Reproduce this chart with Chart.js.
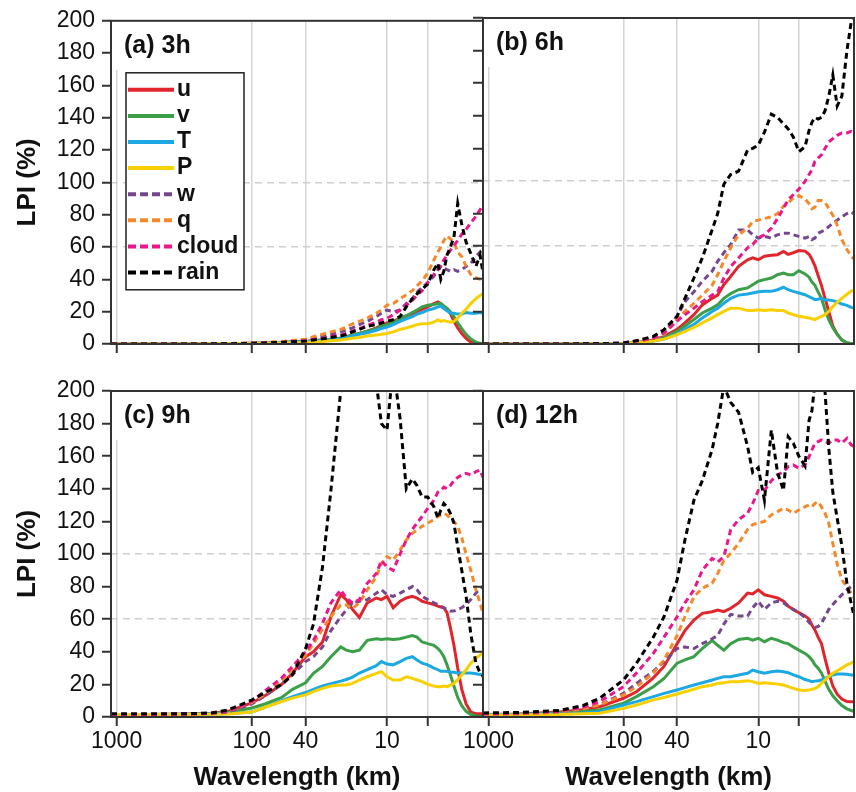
<!DOCTYPE html>
<html>
<head>
<meta charset="utf-8">
<title>LPI spectra</title>
<script src="https://cdn.jsdelivr.net/npm/chart.js@4.4.1/dist/chart.umd.min.js"></script>
<style>
  body { margin: 0; background: #fff; }
  #wrap { position: relative; width: 856px; height: 792px; overflow: hidden; background: #fff; }
  canvas { position: absolute; }
</style>
</head>
<body>
<div id="wrap">
  <canvas id="p3h" width="490" height="380" style="left:0px;top:0px"></canvas>
  <canvas id="p6h" width="386" height="380" style="left:470px;top:0px"></canvas>
  <canvas id="p9h" width="490" height="432" style="left:0px;top:360px"></canvas>
  <canvas id="p12h" width="396" height="432" style="left:460px;top:360px"></canvas>
</div>
<script>
// wavelength samples (km), shared by every curve
const wavelength = [1100, 600, 300, 200, 150, 100, 80, 60, 50, 40,
  35, 30, 26, 22, 20, 18, 16, 14, 12, 11,
  10, 9, 8, 7.2, 6.5, 6, 5.5, 5, 4.5, 4.2,
  4, 3.8, 3.6, 3.4, 3.2, 3, 2.8, 2.6, 2.4, 2.2,
  2.05, 1.95];

const seriesNames = ['u', 'v', 'T', 'P', 'w', 'q', 'cloud', 'rain'];
const seriesColors = ['#e0262c', '#3a9f48', '#1ba8e3', '#f8d000', '#76478f', '#f5892a', '#ec168c', '#000000'];
const seriesDashed = [false, false, false, false, true, true, true, true];

const xTickValues = [1000, 100, 40, 10, 5];
const xTickLabels = ['1000', '100', '40', '10', ''];

// (a) 3h
const u3h = [0,0,0,0.1,0.2,0.4,0.6,0.9,1.2,1.5, 2,2.5,3,3.5,4.5,5.5,6.5,8,10,11.5, 13,14,16,17.5,18.5,20,21.5,23,25,26, 25,23,22,19,14,10,6.5,3.5,1.2,0.3, 0.1,0];
const v3h = [0,0,0,0.1,0.2,0.4,0.6,0.9,1.2,1.5, 2,2.5,3,3.5,4.5,5.5,6.5,8,9.5,11, 12,13.5,15.5,17.5,19.5,21,23,24,24.5,25, 25,23.5,22,20,17,13,9.5,6,3,1.2, 0.4,0.1];
const T3h = [0,0,0,0.1,0.2,0.4,0.6,0.9,1.1,1.4, 1.8,2.2,2.6,3.2,4,5,6,7,8.5,9.5, 10.5,12,14,15.5,17,18.5,19.5,21,22,23, 23.5,22,20.5,19,19,18.5,18.5,19.5,19,19, 19.5,19];
const P3h = [0,0,0,0.1,0.1,0.3,0.4,0.6,0.8,1, 1.3,1.6,2,2.5,3,3.5,4,5,5.5,6, 6.5,7.5,9,10,11,12,12.5,12.5,13.5,15, 14,14.5,14,13.5,14,16,19,21.5,25,28, 30,31];
const w3h = [0,0,0,0.1,0.2,0.5,0.8,1.2,1.8,2.5, 3.5,5,6,7.5,8.5,10,12,14,17,19, 21,20,21,25,28,32,35,38,42,46, 48,47,46,45,46,45,46,48,50,54, 57,59];
const q3h = [0,0,0,0.1,0.3,0.6,1,1.6,2.2,3, 4.5,6,7.5,9,10.5,12.5,14,16,19,21, 24,25,28,30.5,33,36,39,44,52,57, 60,64,67,65,63,57,54,48,43,41, 40,40];
const cloud3h = [0,0,0,0.1,0.2,0.4,0.7,1.1,1.5,2, 2.8,3.5,4.5,5.5,6.5,8,9.5,11.5,13.5,15, 16,18,21,24,27,30,33,38,43,46, 48,52,55,58,61,64,68,71,75,79, 83,86];
const rain3h = [0,0,0,0.1,0.2,0.4,0.6,1,1.4,1.8, 2.5,3.2,4,5,6,7.5,9,11,12,13, 14,15,17,23,28,31,34,37,46,50, 40,45,55,60,66,87,74,63,56,48, 55,44];

// (b) 6h
const u6h = [0,0,0,0,0.1,0.3,1,2.5,4.5,9, 13,18,24,28,30,36.4,41.5,47.6,51.7,52.8, 51.7,53.8,54.4,54.8,56.8,55,56,57.3,57,55, 52,48,42,36,28,20,11,6,2.5,0.6, 0.2,0];
const v6h = [0,0,0,0,0.1,0.3,0.8,2,3.8,7.8, 11,15,19,22,24,28,31,33.3,34.4,36.4, 38.5,39.5,40.5,42.5,43.5,42.5,42.5,45,43,41, 38,36,32,28,21,15,10,6,2.5,0.8, 0.3,0.1];
const T6h = [0,0,0,0,0.1,0.3,0.7,1.8,3,6, 9,12,16,20,22,25,28,30,30.7,31.3, 32,32.3,32.3,33.3,34.8,33.3,32.3,31.3,30.2,29, 28.2,27.2,27.5,28,27,27,26.6,25.8,24.5,23.7, 22.5,22];
const P6h = [0,0,0,0,0.1,0.3,0.7,1.8,3,5.7, 7.8,10.2,13,16,18,20,22,22,20.5,20.5, 21,20.5,21,20.5,20.5,19,18,17,16.4,16, 15.5,15,16,17,18,20,23,25.5,28,30.5, 32.5,33];
const w6h = [0,0,0,0.1,0.2,0.5,1.5,3.5,7,17, 26,32,38.5,44.6,50.7,56,61,70,70,67, 65,66,65,67,68,68,67,66,65,66, 64,65,68,69,70,72,74,76,78,80, 81,80];
const q6h = [0,0,0,0.1,0.2,0.5,1.5,3.5,6,15, 20,25,30,36,42.5,50.7,59,67,71,75, 76,77,78,80,84.5,86.5,89.6,91,89,86, 83,84,88,88,87,83,79,73,64,58, 54,52];
const cloud6h = [0,0,0,0.1,0.2,0.6,2,3.7,6.7,14, 18,22,26,30,32,40.5,47.6,52.8,59,61, 65,67,71,77,83.4,88.5,91.6,95,99.8,104, 107,112,114,116,120,124,126,128,129.5,129.5, 130.5,129.5];
const rain6h = [0,0,0,0.1,0.2,0.6,2,4.7,8.8,17, 28,40.5,52.8,70,80,98,104,106,119,120, 122,130,141,139,135,132,127,118,121,131, 136,139,138,139,143,152,165,146,152,180, 197,200];

// (c) 9h
const u9h = [1.5,1.5,1.8,2.2,3.5,8.6,13,20,27,37, 40,46,61.5,75,72,66,61,70,73,72, 74,67,71,73,74,73,71,70,69,68, 67.5,67,64,55,44,30,17,8,3,2, 2,2];
const v9h = [1.5,1.5,1.7,2,2.8,5.5,8,12,17,21, 26.8,31,37,43,41,40,41,47,48,47.6, 48,47.6,48,49,50,49,46,45,44,42, 40,37,32,26,19,12,7,3.5,1.5,0.6, 0.4,0.3];
const T9h = [1.5,1.5,1.6,1.8,2,3,6,10,12.5,15, 17,19,20.5,22,23,24.5,27,29,31.5,34, 32.5,32,34,36,37,35,33,32,30,29, 28,28,28,27.5,27.5,27,27,27,27,26.5, 26,26];
const P9h = [1.5,1.5,1.6,1.7,1.8,3,6,9.5,11.6,13.6, 15.6,17.6,19,19.6,19.6,20.6,22.7,24.7,26.8,27.8, 24.7,22.7,22.7,24.7,23.7,22.7,21.7,20,19,18.6, 18.6,19,18.6,19.6,20.6,23,25.8,29,33,36, 38,39];
const w9h = [1.5,1.5,1.8,2.2,3,8,13,20,25.8,34, 37,43,53,61.5,65.6,70,71,72,76,78, 75,74,76,78,80,78,74,72,70,69, 68,67,66,65,65,66,67,69,72,76, 79,80];
const q9h = [1.5,1.5,1.8,2.3,3.5,9,14,22,29,38, 45,54,61.5,68.7,68.7,66.7,70,78,86,94.3, 98.4,96.3,102.4,108.6,112.7,114.7,117,119,121,123, 124,125,124,122,120,117,110,100,90,78, 70,63.6];
const cloud9h = [1.5,1.5,1.8,2.3,3.5,9.5,16,24,31,40, 47,57.5,70,78,73,70,72,82,88,96, 92,90,100,108.6,115,119,123,128,133,138, 139,141,140,142,145,147,148.5,149.5,148.5,150.5, 151.5,147];
const rain9h = [2,2,2,2.5,4.3,10.4,15,20,26,42, 57,92,139,200,240,280,290,260,205,180, 176,215,183,140,146,142,135,135,129,122, 127,131,129,125,119,104.5,90,74,51,33, 27,25];

// (d) 12h
const u12h = [1.5,1.8,3,4.5,6.3,11.5,15.5,24,31,45, 53,59.5,63.6,64.6,65.6,64.6,66.7,70,76,75.5, 78,75,74,73,71,68,66,64,62,60, 56.5,53.4,49,45,36,27,19,14,11,9.5, 9.4,9.4];
const v12h = [1.5,1.6,2.5,3.5,4.3,8.4,12.5,18.6,23.7,33, 35,37,42,47,44,41,45,47.6,48.3,47.2, 48.3,46.2,48.3,47.2,45.6,45,43,41,39,37, 35,32,30,27,22,17,13,10,7,5, 4,3.5];
const T12h = [1.5,1.5,2,2.5,3.3,7.4,9.4,12.5,14.5,16.6, 18,19.6,21,22.7,23.7,24.7,24.7,25.8,26.8,28.8, 27.8,26.8,27.8,28.2,27.8,27.2,25.8,24.7,23,22.3, 21.7,22,22.3,22.7,23.7,24.7,25.8,26.4,26.4,26.2, 25.8,25.8];
const P12h = [1.2,1.3,1.5,2,2.3,5.3,7.4,10.5,12,14.1, 15.5,17,18.6,19.6,20.6,21,21.7,21.7,22.3,21.7, 20.6,21,20.6,20.2,19.6,18.6,17.6,16.6,16.2,16.6, 17,17.6,18.6,20.6,22.7,24.7,26.8,28.4,30,32, 33,34];
const w12h = [1.8,2,3,5,7.4,14.5,20.6,28,34,42, 43,42,45,48,50,57,63,62,62,67, 71,66,70,71,70,68,66,64,61,58, 56.5,55,55.5,57.5,61.5,66,69,72,75,78, 80,82];
const q12h = [1.8,2,3,5,7.4,13.5,18.6,27,35,50, 61.5,73.8,79,82,88,96,100.4,106.5,115,118, 119,120,124,126,128,127,125,127,129,130, 129,131,132,129,125,119,106.5,94,84,80, 76,73];
const cloud12h = [2,2.2,3.5,6,9.4,18.6,27,39,49,61.5, 70,78,90,97.3,95,98.4,115,121,125,131, 139,139,145,148.5,150.5,153.6,154.6,152.6,154.6,159.7, 163.8,168,169,170,169,168,170,170,168,171, 167,166];
const rain12h = [2.5,2.8,4,7,11.5,22.7,33,49,61.5,84, 108.6,133,145,164,180,203,193,187,166,150, 153,133,176,150,139,172,168,160,154,182, 188,205,215,210,200,165,138,122,105,82, 70,62];

const FONT = '"Liberation Sans", Arial, Helvetica, sans-serif';

// panel label, legend box and frame
const panelDecor = {
  id: 'panelDecor',
  beforeDatasetsDraw(chart, args, opts) {
    const { ctx, chartArea: a } = chart;
    ctx.save();
    ctx.fillStyle = '#fff';
    ctx.fillRect(a.left + 1, a.top + 1, 128, 48);
    ctx.fillStyle = '#111';
    ctx.font = 'bold 25px ' + FONT;
    ctx.textBaseline = 'middle';
    ctx.textAlign = 'left';
    ctx.fillText(opts.label, a.left + 13, a.top + 25);

    if (opts.legend) {
      const bx = a.left + 15, by = a.top + 52, bw = 118, bh = 217;
      ctx.fillStyle = '#fff';
      ctx.fillRect(bx, by, bw, bh);
      ctx.strokeStyle = '#222';
      ctx.lineWidth = 1.5;
      ctx.strokeRect(bx, by, bw, bh);
      ctx.font = 'bold 23px ' + FONT;
      chart.data.datasets.forEach((ds, i) => {
        const y = by + 17 + i * 26.1;
        ctx.strokeStyle = ds.borderColor;
        ctx.lineWidth = 4;
        ctx.setLineDash(ds.borderDash.length ? [8, 4] : []);
        ctx.beginPath();
        ctx.moveTo(bx + 2, y);
        ctx.lineTo(bx + 48, y);
        ctx.stroke();
        ctx.setLineDash([]);
        ctx.fillStyle = '#111';
        ctx.fillText(ds.label, bx + 51, y);
      });
    }
    ctx.restore();
  },
  afterDatasetsDraw(chart) {
    const { ctx, chartArea: a } = chart;
    ctx.save();
    ctx.strokeStyle = '#333';
    ctx.lineWidth = 2;
    ctx.strokeRect(a.left, a.top, a.right - a.left, a.bottom - a.top);
    ctx.restore();
  }
};

const panels = [
  { id: 'p3h', label: '(a) 3h', legend: true, left: true, bottom: false,
    yWidth: 111, xHeight: 36, padding: { left: 0, top: 18, right: 7, bottom: 0 },
    values: [u3h, v3h, T3h, P3h, w3h, q3h, cloud3h, rain3h] },
  { id: 'p6h', label: '(b) 6h', legend: false, left: false, bottom: false,
    yWidth: 13, xHeight: 36, padding: { left: 0, top: 18, right: 2, bottom: 0 },
    values: [u6h, v6h, T6h, P6h, w6h, q6h, cloud6h, rain6h] },
  { id: 'p9h', label: '(c) 9h', legend: false, left: true, bottom: true,
    yWidth: 111, xHeight: 75, padding: { left: 0, top: 31, right: 7, bottom: 0 },
    values: [u9h, v9h, T9h, P9h, w9h, q9h, cloud9h, rain9h] },
  { id: 'p12h', label: '(d) 12h', legend: false, left: false, bottom: true,
    yWidth: 23, xHeight: 75, padding: { left: 0, top: 31, right: 2, bottom: 0 },
    values: [u12h, v12h, T12h, P12h, w12h, q12h, cloud12h, rain12h] }
];

function drawPanel(p) {
  new Chart(document.getElementById(p.id), {
    type: 'line',
    data: {
      datasets: seriesNames.map((name, i) => ({
        label: name,
        data: wavelength.map((wl, k) => ({ x: wl, y: p.values[i][k] })),
        borderColor: seriesColors[i],
        borderWidth: 3,
        borderDash: seriesDashed[i] ? [6, 4] : [],
        pointRadius: 0,
        tension: 0,
        clip: 0,
        order: seriesNames.length - i
      }))
    },
    options: {
      responsive: false,
      animation: false,
      devicePixelRatio: 1,
      layout: { padding: p.padding },
      plugins: {
        legend: { display: false },
        tooltip: { enabled: false },
        panelDecor: { label: p.label, legend: p.legend }
      },
      scales: {
        x: {
          type: 'logarithmic',
          reverse: true,
          min: 1.95,
          max: 1100,
          afterBuildTicks: s => { s.ticks = xTickValues.map(v => ({ value: v })); },
          afterFit: s => { s.height = p.xHeight; },
          ticks: {
            display: p.bottom,
            autoSkip: false,
            maxRotation: 0,
            padding: 2,
            color: '#111',
            font: { family: FONT, size: 23 },
            callback: v => xTickLabels[xTickValues.indexOf(v)]
          },
          grid: { color: '#d4d4d4', lineWidth: 1.5, tickColor: '#333', tickLength: 9, tickWidth: 2 },
          border: { display: false },
          title: {
            display: p.bottom,
            text: 'Wavelength (km)',
            color: '#111',
            padding: { top: 0, bottom: 0 },
            font: { family: FONT, size: 26, weight: 'bold', lineHeight: 1.1 }
          }
        },
        y: {
          min: 0,
          max: 200,
          afterFit: s => { s.width = p.yWidth; },
          ticks: {
            stepSize: 20,
            display: p.left,
            padding: 7,
            color: '#111',
            font: { family: FONT, size: 23 }
          },
          grid: {
            color: c => (c.tick && (c.tick.value === 60 || c.tick.value === 100)) ? '#cfcfcf' : 'rgba(0,0,0,0)',
            lineWidth: 1.5,
            tickColor: '#333',
            tickLength: p.left ? 9 : 10,
            tickWidth: 2
          },
          border: { display: false, dash: [7, 5] },
          title: {
            display: p.left,
            text: 'LPI (%)',
            color: '#111',
            padding: { top: 12, bottom: 0 },
            font: { family: FONT, size: 26, weight: 'bold' }
          }
        }
      }
    },
    plugins: [panelDecor]
  });
}

panels.forEach(drawPanel);
</script>
</body>
</html>
